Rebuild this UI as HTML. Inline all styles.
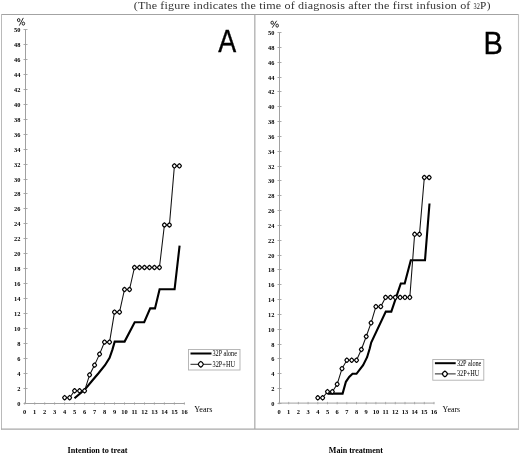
<!DOCTYPE html>
<html><head><meta charset="utf-8"><style>
html,body{margin:0;padding:0;background:#fff;}
body{width:520px;height:454px;overflow:hidden;font-family:"Liberation Serif", serif;}
svg{display:block;will-change:transform;}
</style></head><body>
<svg width="520" height="454" viewBox="0 0 520 454">
<rect width="520" height="454" fill="#fff"/>
<line x1="254.8" y1="14" x2="254.8" y2="429" stroke="#b4b4b4" stroke-width="1.4"/>
<line x1="1" y1="14.5" x2="519" y2="14.5" stroke="#a3a3a3" stroke-width="1"/>
<line x1="1.5" y1="14" x2="1.5" y2="429.5" stroke="#bababa" stroke-width="1"/>
<line x1="1" y1="429.1" x2="519" y2="429.1" stroke="#a8a8a8" stroke-width="1.3"/>
<line x1="518.5" y1="14" x2="518.5" y2="429.5" stroke="#c2c2c2" stroke-width="1.1"/>
<line x1="25.5" y1="29.5" x2="25.5" y2="403.5" stroke="#a0a0a0" stroke-width="1"/>
<line x1="25.5" y1="403.5" x2="184.68" y2="403.5" stroke="#a0a0a0" stroke-width="1"/>
<line x1="23.5" y1="403.5" x2="27.5" y2="403.5" stroke="#a0a0a0" stroke-width="0.9"/>
<text x="20.5" y="405.6" text-anchor="end" font-family='"Liberation Serif", serif' font-weight="bold" font-size="6.8" textLength="3.2" lengthAdjust="spacingAndGlyphs">0</text>
<line x1="23.5" y1="388.5" x2="27.5" y2="388.5" stroke="#a0a0a0" stroke-width="0.9"/>
<text x="20.5" y="390.6" text-anchor="end" font-family='"Liberation Serif", serif' font-weight="bold" font-size="6.8" textLength="3.2" lengthAdjust="spacingAndGlyphs">2</text>
<line x1="23.5" y1="373.5" x2="27.5" y2="373.5" stroke="#a0a0a0" stroke-width="0.9"/>
<text x="20.5" y="375.6" text-anchor="end" font-family='"Liberation Serif", serif' font-weight="bold" font-size="6.8" textLength="3.2" lengthAdjust="spacingAndGlyphs">4</text>
<line x1="23.5" y1="358.5" x2="27.5" y2="358.5" stroke="#a0a0a0" stroke-width="0.9"/>
<text x="20.5" y="360.6" text-anchor="end" font-family='"Liberation Serif", serif' font-weight="bold" font-size="6.8" textLength="3.2" lengthAdjust="spacingAndGlyphs">6</text>
<line x1="23.5" y1="343.5" x2="27.5" y2="343.5" stroke="#a0a0a0" stroke-width="0.9"/>
<text x="20.5" y="345.6" text-anchor="end" font-family='"Liberation Serif", serif' font-weight="bold" font-size="6.8" textLength="3.2" lengthAdjust="spacingAndGlyphs">8</text>
<line x1="23.5" y1="328.5" x2="27.5" y2="328.5" stroke="#a0a0a0" stroke-width="0.9"/>
<text x="20.5" y="330.6" text-anchor="end" font-family='"Liberation Serif", serif' font-weight="bold" font-size="6.8" textLength="6.4" lengthAdjust="spacingAndGlyphs">10</text>
<line x1="23.5" y1="313.5" x2="27.5" y2="313.5" stroke="#a0a0a0" stroke-width="0.9"/>
<text x="20.5" y="315.6" text-anchor="end" font-family='"Liberation Serif", serif' font-weight="bold" font-size="6.8" textLength="6.4" lengthAdjust="spacingAndGlyphs">12</text>
<line x1="23.5" y1="298.5" x2="27.5" y2="298.5" stroke="#a0a0a0" stroke-width="0.9"/>
<text x="20.5" y="300.6" text-anchor="end" font-family='"Liberation Serif", serif' font-weight="bold" font-size="6.8" textLength="6.4" lengthAdjust="spacingAndGlyphs">14</text>
<line x1="23.5" y1="283.5" x2="27.5" y2="283.5" stroke="#a0a0a0" stroke-width="0.9"/>
<text x="20.5" y="285.6" text-anchor="end" font-family='"Liberation Serif", serif' font-weight="bold" font-size="6.8" textLength="6.4" lengthAdjust="spacingAndGlyphs">16</text>
<line x1="23.5" y1="268.5" x2="27.5" y2="268.5" stroke="#a0a0a0" stroke-width="0.9"/>
<text x="20.5" y="270.6" text-anchor="end" font-family='"Liberation Serif", serif' font-weight="bold" font-size="6.8" textLength="6.4" lengthAdjust="spacingAndGlyphs">18</text>
<line x1="23.5" y1="253.5" x2="27.5" y2="253.5" stroke="#a0a0a0" stroke-width="0.9"/>
<text x="20.5" y="255.6" text-anchor="end" font-family='"Liberation Serif", serif' font-weight="bold" font-size="6.8" textLength="6.4" lengthAdjust="spacingAndGlyphs">20</text>
<line x1="23.5" y1="238.5" x2="27.5" y2="238.5" stroke="#a0a0a0" stroke-width="0.9"/>
<text x="20.5" y="240.6" text-anchor="end" font-family='"Liberation Serif", serif' font-weight="bold" font-size="6.8" textLength="6.4" lengthAdjust="spacingAndGlyphs">22</text>
<line x1="23.5" y1="223.5" x2="27.5" y2="223.5" stroke="#a0a0a0" stroke-width="0.9"/>
<text x="20.5" y="225.6" text-anchor="end" font-family='"Liberation Serif", serif' font-weight="bold" font-size="6.8" textLength="6.4" lengthAdjust="spacingAndGlyphs">24</text>
<line x1="23.5" y1="208.5" x2="27.5" y2="208.5" stroke="#a0a0a0" stroke-width="0.9"/>
<text x="20.5" y="210.6" text-anchor="end" font-family='"Liberation Serif", serif' font-weight="bold" font-size="6.8" textLength="6.4" lengthAdjust="spacingAndGlyphs">26</text>
<line x1="23.5" y1="193.5" x2="27.5" y2="193.5" stroke="#a0a0a0" stroke-width="0.9"/>
<text x="20.5" y="195.6" text-anchor="end" font-family='"Liberation Serif", serif' font-weight="bold" font-size="6.8" textLength="6.4" lengthAdjust="spacingAndGlyphs">28</text>
<line x1="23.5" y1="179.5" x2="27.5" y2="179.5" stroke="#a0a0a0" stroke-width="0.9"/>
<text x="20.5" y="181.6" text-anchor="end" font-family='"Liberation Serif", serif' font-weight="bold" font-size="6.8" textLength="6.4" lengthAdjust="spacingAndGlyphs">30</text>
<line x1="23.5" y1="164.5" x2="27.5" y2="164.5" stroke="#a0a0a0" stroke-width="0.9"/>
<text x="20.5" y="166.6" text-anchor="end" font-family='"Liberation Serif", serif' font-weight="bold" font-size="6.8" textLength="6.4" lengthAdjust="spacingAndGlyphs">32</text>
<line x1="23.5" y1="149.5" x2="27.5" y2="149.5" stroke="#a0a0a0" stroke-width="0.9"/>
<text x="20.5" y="151.6" text-anchor="end" font-family='"Liberation Serif", serif' font-weight="bold" font-size="6.8" textLength="6.4" lengthAdjust="spacingAndGlyphs">34</text>
<line x1="23.5" y1="134.5" x2="27.5" y2="134.5" stroke="#a0a0a0" stroke-width="0.9"/>
<text x="20.5" y="136.6" text-anchor="end" font-family='"Liberation Serif", serif' font-weight="bold" font-size="6.8" textLength="6.4" lengthAdjust="spacingAndGlyphs">36</text>
<line x1="23.5" y1="119.5" x2="27.5" y2="119.5" stroke="#a0a0a0" stroke-width="0.9"/>
<text x="20.5" y="121.6" text-anchor="end" font-family='"Liberation Serif", serif' font-weight="bold" font-size="6.8" textLength="6.4" lengthAdjust="spacingAndGlyphs">38</text>
<line x1="23.5" y1="104.5" x2="27.5" y2="104.5" stroke="#a0a0a0" stroke-width="0.9"/>
<text x="20.5" y="106.6" text-anchor="end" font-family='"Liberation Serif", serif' font-weight="bold" font-size="6.8" textLength="6.4" lengthAdjust="spacingAndGlyphs">40</text>
<line x1="23.5" y1="89.5" x2="27.5" y2="89.5" stroke="#a0a0a0" stroke-width="0.9"/>
<text x="20.5" y="91.6" text-anchor="end" font-family='"Liberation Serif", serif' font-weight="bold" font-size="6.8" textLength="6.4" lengthAdjust="spacingAndGlyphs">42</text>
<line x1="23.5" y1="74.5" x2="27.5" y2="74.5" stroke="#a0a0a0" stroke-width="0.9"/>
<text x="20.5" y="76.6" text-anchor="end" font-family='"Liberation Serif", serif' font-weight="bold" font-size="6.8" textLength="6.4" lengthAdjust="spacingAndGlyphs">44</text>
<line x1="23.5" y1="59.5" x2="27.5" y2="59.5" stroke="#a0a0a0" stroke-width="0.9"/>
<text x="20.5" y="61.6" text-anchor="end" font-family='"Liberation Serif", serif' font-weight="bold" font-size="6.8" textLength="6.4" lengthAdjust="spacingAndGlyphs">46</text>
<line x1="23.5" y1="44.5" x2="27.5" y2="44.5" stroke="#a0a0a0" stroke-width="0.9"/>
<text x="20.5" y="46.6" text-anchor="end" font-family='"Liberation Serif", serif' font-weight="bold" font-size="6.8" textLength="6.4" lengthAdjust="spacingAndGlyphs">48</text>
<line x1="23.5" y1="29.5" x2="27.5" y2="29.5" stroke="#a0a0a0" stroke-width="0.9"/>
<text x="20.5" y="31.6" text-anchor="end" font-family='"Liberation Serif", serif' font-weight="bold" font-size="6.8" textLength="6.4" lengthAdjust="spacingAndGlyphs">50</text>
<line x1="24.7" y1="402.3" x2="24.7" y2="404.7" stroke="#a0a0a0" stroke-width="0.8"/>
<text x="24.7" y="414.2" text-anchor="middle" font-family='"Liberation Serif", serif' font-weight="bold" font-size="6.4">0</text>
<line x1="34.7" y1="402.3" x2="34.7" y2="404.7" stroke="#a0a0a0" stroke-width="0.8"/>
<text x="34.7" y="414.2" text-anchor="middle" font-family='"Liberation Serif", serif' font-weight="bold" font-size="6.4">1</text>
<line x1="44.7" y1="402.3" x2="44.7" y2="404.7" stroke="#a0a0a0" stroke-width="0.8"/>
<text x="44.7" y="414.2" text-anchor="middle" font-family='"Liberation Serif", serif' font-weight="bold" font-size="6.4">2</text>
<line x1="54.6" y1="402.3" x2="54.6" y2="404.7" stroke="#a0a0a0" stroke-width="0.8"/>
<text x="54.6" y="414.2" text-anchor="middle" font-family='"Liberation Serif", serif' font-weight="bold" font-size="6.4">3</text>
<line x1="64.6" y1="402.3" x2="64.6" y2="404.7" stroke="#a0a0a0" stroke-width="0.8"/>
<text x="64.6" y="414.2" text-anchor="middle" font-family='"Liberation Serif", serif' font-weight="bold" font-size="6.4">4</text>
<line x1="74.6" y1="402.3" x2="74.6" y2="404.7" stroke="#a0a0a0" stroke-width="0.8"/>
<text x="74.6" y="414.2" text-anchor="middle" font-family='"Liberation Serif", serif' font-weight="bold" font-size="6.4">5</text>
<line x1="84.6" y1="402.3" x2="84.6" y2="404.7" stroke="#a0a0a0" stroke-width="0.8"/>
<text x="84.6" y="414.2" text-anchor="middle" font-family='"Liberation Serif", serif' font-weight="bold" font-size="6.4">6</text>
<line x1="94.6" y1="402.3" x2="94.6" y2="404.7" stroke="#a0a0a0" stroke-width="0.8"/>
<text x="94.6" y="414.2" text-anchor="middle" font-family='"Liberation Serif", serif' font-weight="bold" font-size="6.4">7</text>
<line x1="104.5" y1="402.3" x2="104.5" y2="404.7" stroke="#a0a0a0" stroke-width="0.8"/>
<text x="104.5" y="414.2" text-anchor="middle" font-family='"Liberation Serif", serif' font-weight="bold" font-size="6.4">8</text>
<line x1="114.5" y1="402.3" x2="114.5" y2="404.7" stroke="#a0a0a0" stroke-width="0.8"/>
<text x="114.5" y="414.2" text-anchor="middle" font-family='"Liberation Serif", serif' font-weight="bold" font-size="6.4">9</text>
<line x1="124.5" y1="402.3" x2="124.5" y2="404.7" stroke="#a0a0a0" stroke-width="0.8"/>
<text x="124.5" y="414.2" text-anchor="middle" font-family='"Liberation Serif", serif' font-weight="bold" font-size="6.4">10</text>
<line x1="134.5" y1="402.3" x2="134.5" y2="404.7" stroke="#a0a0a0" stroke-width="0.8"/>
<text x="134.5" y="414.2" text-anchor="middle" font-family='"Liberation Serif", serif' font-weight="bold" font-size="6.4">11</text>
<line x1="144.5" y1="402.3" x2="144.5" y2="404.7" stroke="#a0a0a0" stroke-width="0.8"/>
<text x="144.5" y="414.2" text-anchor="middle" font-family='"Liberation Serif", serif' font-weight="bold" font-size="6.4">12</text>
<line x1="154.4" y1="402.3" x2="154.4" y2="404.7" stroke="#a0a0a0" stroke-width="0.8"/>
<text x="154.4" y="414.2" text-anchor="middle" font-family='"Liberation Serif", serif' font-weight="bold" font-size="6.4">13</text>
<line x1="164.4" y1="402.3" x2="164.4" y2="404.7" stroke="#a0a0a0" stroke-width="0.8"/>
<text x="164.4" y="414.2" text-anchor="middle" font-family='"Liberation Serif", serif' font-weight="bold" font-size="6.4">14</text>
<line x1="174.4" y1="402.3" x2="174.4" y2="404.7" stroke="#a0a0a0" stroke-width="0.8"/>
<text x="174.4" y="414.2" text-anchor="middle" font-family='"Liberation Serif", serif' font-weight="bold" font-size="6.4">15</text>
<line x1="184.4" y1="402.3" x2="184.4" y2="404.7" stroke="#a0a0a0" stroke-width="0.8"/>
<text x="184.4" y="414.2" text-anchor="middle" font-family='"Liberation Serif", serif' font-weight="bold" font-size="6.4">16</text>
<line x1="279.5" y1="32.599999999999966" x2="279.5" y2="403.1" stroke="#a0a0a0" stroke-width="1"/>
<line x1="279.5" y1="403.1" x2="434.31" y2="403.1" stroke="#a0a0a0" stroke-width="1"/>
<line x1="277.5" y1="403.5" x2="281.5" y2="403.5" stroke="#a0a0a0" stroke-width="0.9"/>
<text x="274.5" y="405.6" text-anchor="end" font-family='"Liberation Serif", serif' font-weight="bold" font-size="6.8" textLength="3.2" lengthAdjust="spacingAndGlyphs">0</text>
<line x1="277.5" y1="388.5" x2="281.5" y2="388.5" stroke="#a0a0a0" stroke-width="0.9"/>
<text x="274.5" y="390.6" text-anchor="end" font-family='"Liberation Serif", serif' font-weight="bold" font-size="6.8" textLength="3.2" lengthAdjust="spacingAndGlyphs">2</text>
<line x1="277.5" y1="373.5" x2="281.5" y2="373.5" stroke="#a0a0a0" stroke-width="0.9"/>
<text x="274.5" y="375.6" text-anchor="end" font-family='"Liberation Serif", serif' font-weight="bold" font-size="6.8" textLength="3.2" lengthAdjust="spacingAndGlyphs">4</text>
<line x1="277.5" y1="358.5" x2="281.5" y2="358.5" stroke="#a0a0a0" stroke-width="0.9"/>
<text x="274.5" y="360.6" text-anchor="end" font-family='"Liberation Serif", serif' font-weight="bold" font-size="6.8" textLength="3.2" lengthAdjust="spacingAndGlyphs">6</text>
<line x1="277.5" y1="344.5" x2="281.5" y2="344.5" stroke="#a0a0a0" stroke-width="0.9"/>
<text x="274.5" y="346.6" text-anchor="end" font-family='"Liberation Serif", serif' font-weight="bold" font-size="6.8" textLength="3.2" lengthAdjust="spacingAndGlyphs">8</text>
<line x1="277.5" y1="329.5" x2="281.5" y2="329.5" stroke="#a0a0a0" stroke-width="0.9"/>
<text x="274.5" y="331.6" text-anchor="end" font-family='"Liberation Serif", serif' font-weight="bold" font-size="6.8" textLength="6.4" lengthAdjust="spacingAndGlyphs">10</text>
<line x1="277.5" y1="314.5" x2="281.5" y2="314.5" stroke="#a0a0a0" stroke-width="0.9"/>
<text x="274.5" y="316.6" text-anchor="end" font-family='"Liberation Serif", serif' font-weight="bold" font-size="6.8" textLength="6.4" lengthAdjust="spacingAndGlyphs">12</text>
<line x1="277.5" y1="299.5" x2="281.5" y2="299.5" stroke="#a0a0a0" stroke-width="0.9"/>
<text x="274.5" y="301.6" text-anchor="end" font-family='"Liberation Serif", serif' font-weight="bold" font-size="6.8" textLength="6.4" lengthAdjust="spacingAndGlyphs">14</text>
<line x1="277.5" y1="284.5" x2="281.5" y2="284.5" stroke="#a0a0a0" stroke-width="0.9"/>
<text x="274.5" y="286.6" text-anchor="end" font-family='"Liberation Serif", serif' font-weight="bold" font-size="6.8" textLength="6.4" lengthAdjust="spacingAndGlyphs">16</text>
<line x1="277.5" y1="269.5" x2="281.5" y2="269.5" stroke="#a0a0a0" stroke-width="0.9"/>
<text x="274.5" y="271.6" text-anchor="end" font-family='"Liberation Serif", serif' font-weight="bold" font-size="6.8" textLength="6.4" lengthAdjust="spacingAndGlyphs">18</text>
<line x1="277.5" y1="255.5" x2="281.5" y2="255.5" stroke="#a0a0a0" stroke-width="0.9"/>
<text x="274.5" y="257.6" text-anchor="end" font-family='"Liberation Serif", serif' font-weight="bold" font-size="6.8" textLength="6.4" lengthAdjust="spacingAndGlyphs">20</text>
<line x1="277.5" y1="240.5" x2="281.5" y2="240.5" stroke="#a0a0a0" stroke-width="0.9"/>
<text x="274.5" y="242.6" text-anchor="end" font-family='"Liberation Serif", serif' font-weight="bold" font-size="6.8" textLength="6.4" lengthAdjust="spacingAndGlyphs">22</text>
<line x1="277.5" y1="225.5" x2="281.5" y2="225.5" stroke="#a0a0a0" stroke-width="0.9"/>
<text x="274.5" y="227.6" text-anchor="end" font-family='"Liberation Serif", serif' font-weight="bold" font-size="6.8" textLength="6.4" lengthAdjust="spacingAndGlyphs">24</text>
<line x1="277.5" y1="210.5" x2="281.5" y2="210.5" stroke="#a0a0a0" stroke-width="0.9"/>
<text x="274.5" y="212.6" text-anchor="end" font-family='"Liberation Serif", serif' font-weight="bold" font-size="6.8" textLength="6.4" lengthAdjust="spacingAndGlyphs">26</text>
<line x1="277.5" y1="195.5" x2="281.5" y2="195.5" stroke="#a0a0a0" stroke-width="0.9"/>
<text x="274.5" y="197.6" text-anchor="end" font-family='"Liberation Serif", serif' font-weight="bold" font-size="6.8" textLength="6.4" lengthAdjust="spacingAndGlyphs">28</text>
<line x1="277.5" y1="180.5" x2="281.5" y2="180.5" stroke="#a0a0a0" stroke-width="0.9"/>
<text x="274.5" y="182.6" text-anchor="end" font-family='"Liberation Serif", serif' font-weight="bold" font-size="6.8" textLength="6.4" lengthAdjust="spacingAndGlyphs">30</text>
<line x1="277.5" y1="166.5" x2="281.5" y2="166.5" stroke="#a0a0a0" stroke-width="0.9"/>
<text x="274.5" y="168.6" text-anchor="end" font-family='"Liberation Serif", serif' font-weight="bold" font-size="6.8" textLength="6.4" lengthAdjust="spacingAndGlyphs">32</text>
<line x1="277.5" y1="151.5" x2="281.5" y2="151.5" stroke="#a0a0a0" stroke-width="0.9"/>
<text x="274.5" y="153.6" text-anchor="end" font-family='"Liberation Serif", serif' font-weight="bold" font-size="6.8" textLength="6.4" lengthAdjust="spacingAndGlyphs">34</text>
<line x1="277.5" y1="136.5" x2="281.5" y2="136.5" stroke="#a0a0a0" stroke-width="0.9"/>
<text x="274.5" y="138.6" text-anchor="end" font-family='"Liberation Serif", serif' font-weight="bold" font-size="6.8" textLength="6.4" lengthAdjust="spacingAndGlyphs">36</text>
<line x1="277.5" y1="121.5" x2="281.5" y2="121.5" stroke="#a0a0a0" stroke-width="0.9"/>
<text x="274.5" y="123.6" text-anchor="end" font-family='"Liberation Serif", serif' font-weight="bold" font-size="6.8" textLength="6.4" lengthAdjust="spacingAndGlyphs">38</text>
<line x1="277.5" y1="106.5" x2="281.5" y2="106.5" stroke="#a0a0a0" stroke-width="0.9"/>
<text x="274.5" y="108.6" text-anchor="end" font-family='"Liberation Serif", serif' font-weight="bold" font-size="6.8" textLength="6.4" lengthAdjust="spacingAndGlyphs">40</text>
<line x1="277.5" y1="91.5" x2="281.5" y2="91.5" stroke="#a0a0a0" stroke-width="0.9"/>
<text x="274.5" y="93.6" text-anchor="end" font-family='"Liberation Serif", serif' font-weight="bold" font-size="6.8" textLength="6.4" lengthAdjust="spacingAndGlyphs">42</text>
<line x1="277.5" y1="77.5" x2="281.5" y2="77.5" stroke="#a0a0a0" stroke-width="0.9"/>
<text x="274.5" y="79.6" text-anchor="end" font-family='"Liberation Serif", serif' font-weight="bold" font-size="6.8" textLength="6.4" lengthAdjust="spacingAndGlyphs">44</text>
<line x1="277.5" y1="62.5" x2="281.5" y2="62.5" stroke="#a0a0a0" stroke-width="0.9"/>
<text x="274.5" y="64.6" text-anchor="end" font-family='"Liberation Serif", serif' font-weight="bold" font-size="6.8" textLength="6.4" lengthAdjust="spacingAndGlyphs">46</text>
<line x1="277.5" y1="47.5" x2="281.5" y2="47.5" stroke="#a0a0a0" stroke-width="0.9"/>
<text x="274.5" y="49.6" text-anchor="end" font-family='"Liberation Serif", serif' font-weight="bold" font-size="6.8" textLength="6.4" lengthAdjust="spacingAndGlyphs">48</text>
<line x1="277.5" y1="32.5" x2="281.5" y2="32.5" stroke="#a0a0a0" stroke-width="0.9"/>
<text x="274.5" y="34.6" text-anchor="end" font-family='"Liberation Serif", serif' font-weight="bold" font-size="6.8" textLength="6.4" lengthAdjust="spacingAndGlyphs">50</text>
<line x1="279.1" y1="401.90000000000003" x2="279.1" y2="404.3" stroke="#a0a0a0" stroke-width="0.8"/>
<text x="279.1" y="414.2" text-anchor="middle" font-family='"Liberation Serif", serif' font-weight="bold" font-size="6.4">0</text>
<line x1="288.7" y1="401.90000000000003" x2="288.7" y2="404.3" stroke="#a0a0a0" stroke-width="0.8"/>
<text x="288.7" y="414.2" text-anchor="middle" font-family='"Liberation Serif", serif' font-weight="bold" font-size="6.4">1</text>
<line x1="298.4" y1="401.90000000000003" x2="298.4" y2="404.3" stroke="#a0a0a0" stroke-width="0.8"/>
<text x="298.4" y="414.2" text-anchor="middle" font-family='"Liberation Serif", serif' font-weight="bold" font-size="6.4">2</text>
<line x1="308.1" y1="401.90000000000003" x2="308.1" y2="404.3" stroke="#a0a0a0" stroke-width="0.8"/>
<text x="308.1" y="414.2" text-anchor="middle" font-family='"Liberation Serif", serif' font-weight="bold" font-size="6.4">3</text>
<line x1="317.8" y1="401.90000000000003" x2="317.8" y2="404.3" stroke="#a0a0a0" stroke-width="0.8"/>
<text x="317.8" y="414.2" text-anchor="middle" font-family='"Liberation Serif", serif' font-weight="bold" font-size="6.4">4</text>
<line x1="327.5" y1="401.90000000000003" x2="327.5" y2="404.3" stroke="#a0a0a0" stroke-width="0.8"/>
<text x="327.5" y="414.2" text-anchor="middle" font-family='"Liberation Serif", serif' font-weight="bold" font-size="6.4">5</text>
<line x1="337.2" y1="401.90000000000003" x2="337.2" y2="404.3" stroke="#a0a0a0" stroke-width="0.8"/>
<text x="337.2" y="414.2" text-anchor="middle" font-family='"Liberation Serif", serif' font-weight="bold" font-size="6.4">6</text>
<line x1="346.8" y1="401.90000000000003" x2="346.8" y2="404.3" stroke="#a0a0a0" stroke-width="0.8"/>
<text x="346.8" y="414.2" text-anchor="middle" font-family='"Liberation Serif", serif' font-weight="bold" font-size="6.4">7</text>
<line x1="356.5" y1="401.90000000000003" x2="356.5" y2="404.3" stroke="#a0a0a0" stroke-width="0.8"/>
<text x="356.5" y="414.2" text-anchor="middle" font-family='"Liberation Serif", serif' font-weight="bold" font-size="6.4">8</text>
<line x1="366.2" y1="401.90000000000003" x2="366.2" y2="404.3" stroke="#a0a0a0" stroke-width="0.8"/>
<text x="366.2" y="414.2" text-anchor="middle" font-family='"Liberation Serif", serif' font-weight="bold" font-size="6.4">9</text>
<line x1="375.9" y1="401.90000000000003" x2="375.9" y2="404.3" stroke="#a0a0a0" stroke-width="0.8"/>
<text x="375.9" y="414.2" text-anchor="middle" font-family='"Liberation Serif", serif' font-weight="bold" font-size="6.4">10</text>
<line x1="385.6" y1="401.90000000000003" x2="385.6" y2="404.3" stroke="#a0a0a0" stroke-width="0.8"/>
<text x="385.6" y="414.2" text-anchor="middle" font-family='"Liberation Serif", serif' font-weight="bold" font-size="6.4">11</text>
<line x1="395.3" y1="401.90000000000003" x2="395.3" y2="404.3" stroke="#a0a0a0" stroke-width="0.8"/>
<text x="395.3" y="414.2" text-anchor="middle" font-family='"Liberation Serif", serif' font-weight="bold" font-size="6.4">12</text>
<line x1="405.0" y1="401.90000000000003" x2="405.0" y2="404.3" stroke="#a0a0a0" stroke-width="0.8"/>
<text x="405.0" y="414.2" text-anchor="middle" font-family='"Liberation Serif", serif' font-weight="bold" font-size="6.4">13</text>
<line x1="414.6" y1="401.90000000000003" x2="414.6" y2="404.3" stroke="#a0a0a0" stroke-width="0.8"/>
<text x="414.6" y="414.2" text-anchor="middle" font-family='"Liberation Serif", serif' font-weight="bold" font-size="6.4">14</text>
<line x1="424.3" y1="401.90000000000003" x2="424.3" y2="404.3" stroke="#a0a0a0" stroke-width="0.8"/>
<text x="424.3" y="414.2" text-anchor="middle" font-family='"Liberation Serif", serif' font-weight="bold" font-size="6.4">15</text>
<line x1="434.0" y1="401.90000000000003" x2="434.0" y2="404.3" stroke="#a0a0a0" stroke-width="0.8"/>
<text x="434.0" y="414.2" text-anchor="middle" font-family='"Liberation Serif", serif' font-weight="bold" font-size="6.4">16</text>
<ellipse cx="18.7" cy="20.1" rx="1.25" ry="1.55" fill="none" stroke="#222" stroke-width="1.0"/>
<ellipse cx="23.4" cy="23.6" rx="1.25" ry="1.55" fill="none" stroke="#222" stroke-width="1.0"/>
<line x1="23.3" y1="17.9" x2="19.3" y2="25.6" stroke="#222" stroke-width="0.95"/>
<ellipse cx="272.2" cy="22.7" rx="1.25" ry="1.55" fill="none" stroke="#222" stroke-width="1.0"/>
<ellipse cx="277.2" cy="25.6" rx="1.25" ry="1.55" fill="none" stroke="#222" stroke-width="1.0"/>
<line x1="276.6" y1="20.8" x2="272.3" y2="27.7" stroke="#222" stroke-width="0.95"/>
<text x="194.3" y="411.7" font-family='"Liberation Serif", serif' font-size="8.9" textLength="18.2" lengthAdjust="spacingAndGlyphs">Years</text>
<text x="442.5" y="411.5" font-family='"Liberation Serif", serif' font-size="8.9" textLength="17.6" lengthAdjust="spacingAndGlyphs">Years</text>
<g transform="translate(218.3 51.6) scale(0.88 1)"><text x="0" y="0" font-family='"Liberation Sans", sans-serif' font-size="30.6" stroke="#000" stroke-width="0.35">A</text></g>
<g transform="translate(483.4 53.9) scale(0.94 1)"><text x="0" y="0" font-family='"Liberation Sans", sans-serif' font-size="30.8" stroke="#000" stroke-width="0.35">B</text></g>
<path d="M74.50 398.30 L82.20 391.70 L86.10 388.10 L91.90 381.00 L98.70 373.00 L105.00 365.20 L109.60 357.80 L112.50 349.40 L114.70 341.60 L124.60 341.60 L134.70 322.20 L144.20 322.20 L150.20 308.40 L155.00 308.40 L159.60 289.20 L174.60 289.20 L179.60 245.70" fill="none" stroke="#000" stroke-width="2.1" stroke-linejoin="miter" stroke-linecap="butt"/>
<path d="M64.62 397.70 L69.61 397.70 L74.60 390.80 L79.59 390.80 L84.58 390.80 L89.57 374.90 L94.56 365.10 L99.55 354.10 L104.54 342.10 L109.53 342.10 L114.52 312.10 L119.51 312.10 L124.50 289.50 L129.49 289.50 L134.48 267.50 L139.47 267.50 L144.46 267.50 L149.45 267.50 L154.44 267.50 L159.43 267.50 L164.42 225.00 L169.41 225.00 L174.40 165.90 L179.39 165.90" fill="none" stroke="#111" stroke-width="1.05" stroke-linejoin="miter" stroke-linecap="butt"/>
<path d="M62.62 397.70 L63.42 396.36 L64.62 395.46 L65.82 396.36 L66.62 397.70 L65.82 399.04 L64.62 399.94 L63.42 399.04 Z" fill="#fff" stroke="#000" stroke-width="1.2" stroke-linejoin="round"/>
<path d="M67.61 397.70 L68.41 396.36 L69.61 395.46 L70.81 396.36 L71.61 397.70 L70.81 399.04 L69.61 399.94 L68.41 399.04 Z" fill="#fff" stroke="#000" stroke-width="1.2" stroke-linejoin="round"/>
<path d="M72.60 390.80 L73.40 389.46 L74.60 388.56 L75.80 389.46 L76.60 390.80 L75.80 392.14 L74.60 393.04 L73.40 392.14 Z" fill="#fff" stroke="#000" stroke-width="1.2" stroke-linejoin="round"/>
<path d="M77.59 390.80 L78.39 389.46 L79.59 388.56 L80.79 389.46 L81.59 390.80 L80.79 392.14 L79.59 393.04 L78.39 392.14 Z" fill="#fff" stroke="#000" stroke-width="1.2" stroke-linejoin="round"/>
<path d="M82.58 390.80 L83.38 389.46 L84.58 388.56 L85.78 389.46 L86.58 390.80 L85.78 392.14 L84.58 393.04 L83.38 392.14 Z" fill="#fff" stroke="#000" stroke-width="1.2" stroke-linejoin="round"/>
<path d="M87.57 374.90 L88.37 373.56 L89.57 372.66 L90.77 373.56 L91.57 374.90 L90.77 376.24 L89.57 377.14 L88.37 376.24 Z" fill="#fff" stroke="#000" stroke-width="1.2" stroke-linejoin="round"/>
<path d="M92.56 365.10 L93.36 363.76 L94.56 362.86 L95.76 363.76 L96.56 365.10 L95.76 366.44 L94.56 367.34 L93.36 366.44 Z" fill="#fff" stroke="#000" stroke-width="1.2" stroke-linejoin="round"/>
<path d="M97.55 354.10 L98.35 352.76 L99.55 351.86 L100.75 352.76 L101.55 354.10 L100.75 355.44 L99.55 356.34 L98.35 355.44 Z" fill="#fff" stroke="#000" stroke-width="1.2" stroke-linejoin="round"/>
<path d="M102.54 342.10 L103.34 340.76 L104.54 339.86 L105.74 340.76 L106.54 342.10 L105.74 343.44 L104.54 344.34 L103.34 343.44 Z" fill="#fff" stroke="#000" stroke-width="1.2" stroke-linejoin="round"/>
<path d="M107.53 342.10 L108.33 340.76 L109.53 339.86 L110.73 340.76 L111.53 342.10 L110.73 343.44 L109.53 344.34 L108.33 343.44 Z" fill="#fff" stroke="#000" stroke-width="1.2" stroke-linejoin="round"/>
<path d="M112.52 312.10 L113.32 310.76 L114.52 309.86 L115.72 310.76 L116.52 312.10 L115.72 313.44 L114.52 314.34 L113.32 313.44 Z" fill="#fff" stroke="#000" stroke-width="1.2" stroke-linejoin="round"/>
<path d="M117.51 312.10 L118.31 310.76 L119.51 309.86 L120.71 310.76 L121.51 312.10 L120.71 313.44 L119.51 314.34 L118.31 313.44 Z" fill="#fff" stroke="#000" stroke-width="1.2" stroke-linejoin="round"/>
<path d="M122.50 289.50 L123.30 288.16 L124.50 287.26 L125.70 288.16 L126.50 289.50 L125.70 290.84 L124.50 291.74 L123.30 290.84 Z" fill="#fff" stroke="#000" stroke-width="1.2" stroke-linejoin="round"/>
<path d="M127.49 289.50 L128.29 288.16 L129.49 287.26 L130.69 288.16 L131.49 289.50 L130.69 290.84 L129.49 291.74 L128.29 290.84 Z" fill="#fff" stroke="#000" stroke-width="1.2" stroke-linejoin="round"/>
<path d="M132.48 267.50 L133.28 266.16 L134.48 265.26 L135.68 266.16 L136.48 267.50 L135.68 268.84 L134.48 269.74 L133.28 268.84 Z" fill="#fff" stroke="#000" stroke-width="1.2" stroke-linejoin="round"/>
<path d="M137.47 267.50 L138.27 266.16 L139.47 265.26 L140.67 266.16 L141.47 267.50 L140.67 268.84 L139.47 269.74 L138.27 268.84 Z" fill="#fff" stroke="#000" stroke-width="1.2" stroke-linejoin="round"/>
<path d="M142.46 267.50 L143.26 266.16 L144.46 265.26 L145.66 266.16 L146.46 267.50 L145.66 268.84 L144.46 269.74 L143.26 268.84 Z" fill="#fff" stroke="#000" stroke-width="1.2" stroke-linejoin="round"/>
<path d="M147.45 267.50 L148.25 266.16 L149.45 265.26 L150.65 266.16 L151.45 267.50 L150.65 268.84 L149.45 269.74 L148.25 268.84 Z" fill="#fff" stroke="#000" stroke-width="1.2" stroke-linejoin="round"/>
<path d="M152.44 267.50 L153.24 266.16 L154.44 265.26 L155.64 266.16 L156.44 267.50 L155.64 268.84 L154.44 269.74 L153.24 268.84 Z" fill="#fff" stroke="#000" stroke-width="1.2" stroke-linejoin="round"/>
<path d="M157.43 267.50 L158.23 266.16 L159.43 265.26 L160.63 266.16 L161.43 267.50 L160.63 268.84 L159.43 269.74 L158.23 268.84 Z" fill="#fff" stroke="#000" stroke-width="1.2" stroke-linejoin="round"/>
<path d="M162.42 225.00 L163.22 223.66 L164.42 222.76 L165.62 223.66 L166.42 225.00 L165.62 226.34 L164.42 227.24 L163.22 226.34 Z" fill="#fff" stroke="#000" stroke-width="1.2" stroke-linejoin="round"/>
<path d="M167.41 225.00 L168.21 223.66 L169.41 222.76 L170.61 223.66 L171.41 225.00 L170.61 226.34 L169.41 227.24 L168.21 226.34 Z" fill="#fff" stroke="#000" stroke-width="1.2" stroke-linejoin="round"/>
<path d="M172.40 165.90 L173.20 164.56 L174.40 163.66 L175.60 164.56 L176.40 165.90 L175.60 167.24 L174.40 168.14 L173.20 167.24 Z" fill="#fff" stroke="#000" stroke-width="1.2" stroke-linejoin="round"/>
<path d="M177.39 165.90 L178.19 164.56 L179.39 163.66 L180.59 164.56 L181.39 165.90 L180.59 167.24 L179.39 168.14 L178.19 167.24 Z" fill="#fff" stroke="#000" stroke-width="1.2" stroke-linejoin="round"/>
<path d="M328.00 393.60 L342.60 393.60 L345.90 381.80 L349.20 377.00 L352.50 373.80 L356.50 373.80 L363.10 365.10 L367.10 357.20 L369.80 348.20 L371.20 342.60 L385.80 311.60 L391.30 311.60 L400.80 283.50 L404.70 283.50 L410.80 260.20 L425.00 260.20 L429.50 203.50" fill="none" stroke="#000" stroke-width="2.1" stroke-linejoin="miter" stroke-linecap="butt"/>
<path d="M317.79 397.80 L322.63 397.80 L327.48 391.70 L332.32 391.70 L337.16 384.20 L342.00 368.60 L346.85 360.20 L351.69 360.20 L356.53 360.20 L361.37 349.50 L366.22 336.50 L371.06 322.90 L375.90 306.60 L380.74 306.60 L385.59 297.40 L390.43 297.40 L395.27 297.40 L400.11 297.40 L404.96 297.40 L409.80 297.40 L414.64 234.30 L419.48 234.30 L424.33 177.50 L429.17 177.50" fill="none" stroke="#111" stroke-width="1.05" stroke-linejoin="miter" stroke-linecap="butt"/>
<path d="M315.79 397.80 L316.59 396.46 L317.79 395.56 L318.99 396.46 L319.79 397.80 L318.99 399.14 L317.79 400.04 L316.59 399.14 Z" fill="#fff" stroke="#000" stroke-width="1.2" stroke-linejoin="round"/>
<path d="M320.63 397.80 L321.43 396.46 L322.63 395.56 L323.83 396.46 L324.63 397.80 L323.83 399.14 L322.63 400.04 L321.43 399.14 Z" fill="#fff" stroke="#000" stroke-width="1.2" stroke-linejoin="round"/>
<path d="M325.48 391.70 L326.28 390.36 L327.48 389.46 L328.68 390.36 L329.48 391.70 L328.68 393.04 L327.48 393.94 L326.28 393.04 Z" fill="#fff" stroke="#000" stroke-width="1.2" stroke-linejoin="round"/>
<path d="M330.32 391.70 L331.12 390.36 L332.32 389.46 L333.52 390.36 L334.32 391.70 L333.52 393.04 L332.32 393.94 L331.12 393.04 Z" fill="#fff" stroke="#000" stroke-width="1.2" stroke-linejoin="round"/>
<path d="M335.16 384.20 L335.96 382.86 L337.16 381.96 L338.36 382.86 L339.16 384.20 L338.36 385.54 L337.16 386.44 L335.96 385.54 Z" fill="#fff" stroke="#000" stroke-width="1.2" stroke-linejoin="round"/>
<path d="M340.00 368.60 L340.80 367.26 L342.00 366.36 L343.20 367.26 L344.00 368.60 L343.20 369.94 L342.00 370.84 L340.80 369.94 Z" fill="#fff" stroke="#000" stroke-width="1.2" stroke-linejoin="round"/>
<path d="M344.85 360.20 L345.65 358.86 L346.85 357.96 L348.05 358.86 L348.85 360.20 L348.05 361.54 L346.85 362.44 L345.65 361.54 Z" fill="#fff" stroke="#000" stroke-width="1.2" stroke-linejoin="round"/>
<path d="M349.69 360.20 L350.49 358.86 L351.69 357.96 L352.89 358.86 L353.69 360.20 L352.89 361.54 L351.69 362.44 L350.49 361.54 Z" fill="#fff" stroke="#000" stroke-width="1.2" stroke-linejoin="round"/>
<path d="M354.53 360.20 L355.33 358.86 L356.53 357.96 L357.73 358.86 L358.53 360.20 L357.73 361.54 L356.53 362.44 L355.33 361.54 Z" fill="#fff" stroke="#000" stroke-width="1.2" stroke-linejoin="round"/>
<path d="M359.37 349.50 L360.17 348.16 L361.37 347.26 L362.57 348.16 L363.37 349.50 L362.57 350.84 L361.37 351.74 L360.17 350.84 Z" fill="#fff" stroke="#000" stroke-width="1.2" stroke-linejoin="round"/>
<path d="M364.22 336.50 L365.02 335.16 L366.22 334.26 L367.42 335.16 L368.22 336.50 L367.42 337.84 L366.22 338.74 L365.02 337.84 Z" fill="#fff" stroke="#000" stroke-width="1.2" stroke-linejoin="round"/>
<path d="M369.06 322.90 L369.86 321.56 L371.06 320.66 L372.26 321.56 L373.06 322.90 L372.26 324.24 L371.06 325.14 L369.86 324.24 Z" fill="#fff" stroke="#000" stroke-width="1.2" stroke-linejoin="round"/>
<path d="M373.90 306.60 L374.70 305.26 L375.90 304.36 L377.10 305.26 L377.90 306.60 L377.10 307.94 L375.90 308.84 L374.70 307.94 Z" fill="#fff" stroke="#000" stroke-width="1.2" stroke-linejoin="round"/>
<path d="M378.74 306.60 L379.54 305.26 L380.74 304.36 L381.94 305.26 L382.74 306.60 L381.94 307.94 L380.74 308.84 L379.54 307.94 Z" fill="#fff" stroke="#000" stroke-width="1.2" stroke-linejoin="round"/>
<path d="M383.59 297.40 L384.39 296.06 L385.59 295.16 L386.79 296.06 L387.59 297.40 L386.79 298.74 L385.59 299.64 L384.39 298.74 Z" fill="#fff" stroke="#000" stroke-width="1.2" stroke-linejoin="round"/>
<path d="M388.43 297.40 L389.23 296.06 L390.43 295.16 L391.63 296.06 L392.43 297.40 L391.63 298.74 L390.43 299.64 L389.23 298.74 Z" fill="#fff" stroke="#000" stroke-width="1.2" stroke-linejoin="round"/>
<path d="M393.27 297.40 L394.07 296.06 L395.27 295.16 L396.47 296.06 L397.27 297.40 L396.47 298.74 L395.27 299.64 L394.07 298.74 Z" fill="#fff" stroke="#000" stroke-width="1.2" stroke-linejoin="round"/>
<path d="M398.11 297.40 L398.91 296.06 L400.11 295.16 L401.31 296.06 L402.11 297.40 L401.31 298.74 L400.11 299.64 L398.91 298.74 Z" fill="#fff" stroke="#000" stroke-width="1.2" stroke-linejoin="round"/>
<path d="M402.96 297.40 L403.76 296.06 L404.96 295.16 L406.16 296.06 L406.96 297.40 L406.16 298.74 L404.96 299.64 L403.76 298.74 Z" fill="#fff" stroke="#000" stroke-width="1.2" stroke-linejoin="round"/>
<path d="M407.80 297.40 L408.60 296.06 L409.80 295.16 L411.00 296.06 L411.80 297.40 L411.00 298.74 L409.80 299.64 L408.60 298.74 Z" fill="#fff" stroke="#000" stroke-width="1.2" stroke-linejoin="round"/>
<path d="M412.64 234.30 L413.44 232.96 L414.64 232.06 L415.84 232.96 L416.64 234.30 L415.84 235.64 L414.64 236.54 L413.44 235.64 Z" fill="#fff" stroke="#000" stroke-width="1.2" stroke-linejoin="round"/>
<path d="M417.48 234.30 L418.28 232.96 L419.48 232.06 L420.68 232.96 L421.48 234.30 L420.68 235.64 L419.48 236.54 L418.28 235.64 Z" fill="#fff" stroke="#000" stroke-width="1.2" stroke-linejoin="round"/>
<path d="M422.33 177.50 L423.13 176.16 L424.33 175.26 L425.53 176.16 L426.33 177.50 L425.53 178.84 L424.33 179.74 L423.13 178.84 Z" fill="#fff" stroke="#000" stroke-width="1.2" stroke-linejoin="round"/>
<path d="M427.17 177.50 L427.97 176.16 L429.17 175.26 L430.37 176.16 L431.17 177.50 L430.37 178.84 L429.17 179.74 L427.97 178.84 Z" fill="#fff" stroke="#000" stroke-width="1.2" stroke-linejoin="round"/>
<rect x="188.5" y="349.5" width="51.5" height="20.5" fill="#fff" stroke="#b0b0b0" stroke-width="0.9"/>
<line x1="190.5" y1="353.5" x2="211.5" y2="353.5" stroke="#000" stroke-width="2"/>
<line x1="190.5" y1="364.3" x2="211.5" y2="364.3" stroke="#222" stroke-width="1"/>
<path d="M198.20 364.30 L199.24 362.55 L200.80 361.39 L202.36 362.55 L203.40 364.30 L202.36 366.05 L200.80 367.21 L199.24 366.05 Z" fill="#fff" stroke="#000" stroke-width="1.2" stroke-linejoin="round"/>
<text x="212.5" y="355.9" font-family='"Liberation Serif", serif' font-size="7.3" textLength="24.5" lengthAdjust="spacingAndGlyphs">32P alone</text>
<text x="212.5" y="366.7" font-family='"Liberation Serif", serif' font-size="7.3" textLength="22.5" lengthAdjust="spacingAndGlyphs">32P+HU</text>
<rect x="432.8" y="359.5" width="51.0" height="20.69999999999999" fill="#fff" stroke="#b0b0b0" stroke-width="0.9"/>
<line x1="434.9" y1="363.2" x2="455.7" y2="363.2" stroke="#000" stroke-width="2"/>
<line x1="434.9" y1="373.9" x2="455.7" y2="373.9" stroke="#222" stroke-width="1"/>
<path d="M442.30 373.90 L443.34 372.15 L444.90 370.99 L446.46 372.15 L447.50 373.90 L446.46 375.65 L444.90 376.81 L443.34 375.65 Z" fill="#fff" stroke="#000" stroke-width="1.2" stroke-linejoin="round"/>
<text x="456.9" y="365.59999999999997" font-family='"Liberation Serif", serif' font-size="7.3" textLength="24.5" lengthAdjust="spacingAndGlyphs">32P alone</text>
<text x="456.9" y="376.29999999999995" font-family='"Liberation Serif", serif' font-size="7.3" textLength="22.5" lengthAdjust="spacingAndGlyphs">32P+HU</text>
<text x="67.5" y="452.5" font-family='"Liberation Serif", serif' font-weight="bold" font-size="7.6" textLength="60" lengthAdjust="spacingAndGlyphs">Intention to treat</text>
<text x="328.8" y="452.5" font-family='"Liberation Serif", serif' font-weight="bold" font-size="7.6" textLength="54.2" lengthAdjust="spacingAndGlyphs">Main treatment</text>
<g transform="translate(133.8 8.6) scale(1.16 1)"><text x="0" y="0" font-family='"Liberation Serif", serif' font-size="10.4" fill="#333" textLength="290.17" lengthAdjust="spacing">(The figure indicates the time of diagnosis after the first infusion of</text></g>
<text x="473.5" y="8.9" font-family='"Liberation Serif", serif' font-size="7.6" fill="#222" textLength="6.3" lengthAdjust="spacingAndGlyphs">32</text>
<g transform="translate(479.9 8.6) scale(1.08 1)"><text x="0" y="0" font-family='"Liberation Serif", serif' font-size="10.4" fill="#2a2a2a" textLength="9.9" lengthAdjust="spacing">P)</text></g>
</svg>
</body></html>
